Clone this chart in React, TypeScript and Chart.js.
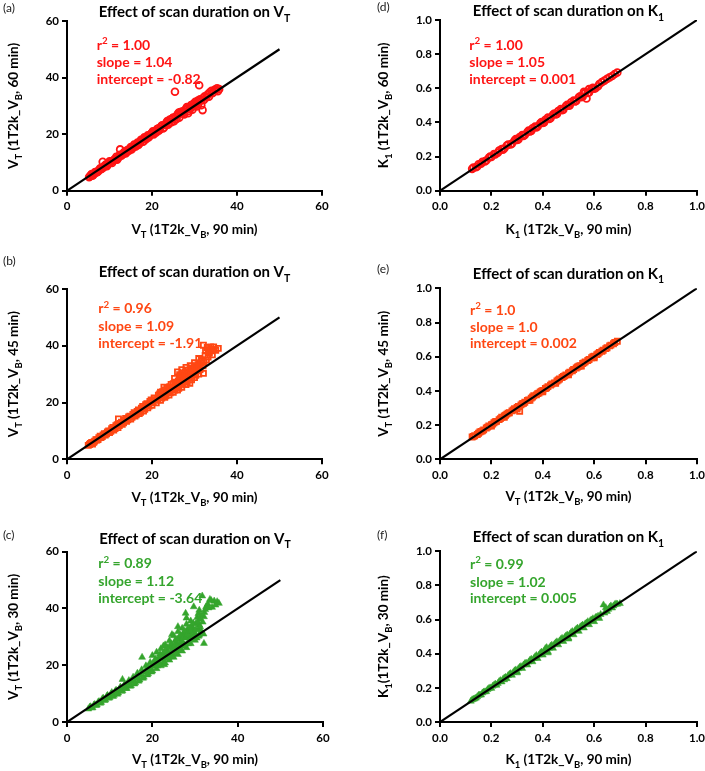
import React, { useEffect, useRef } from 'react';
import { Chart, registerables } from 'chart.js';
Chart.register(...registerables);

// ---------- data ----------
const vtTicks = [0, 20, 40, 60];
const k1Ticks = [0, 0.2, 0.4, 0.6, 0.8, 1.0];
const vtIdentity = [[0, 0], [50, 50]];
const k1Identity = [[0, 0], [1, 1]];

const vt60Points = [
  [5.2,4.8],[5.6,5.5],[6.0,5.3],[6.3,6.0],[6.8,6.4],[7.2,6.6],[7.5,7.3],[8.0,7.6],[8.4,10.2],[8.6,8.2],
  [9.0,8.9],[9.4,8.7],[9.8,9.6],[10.2,10.0],[10.6,9.8],[11.0,10.8],[11.4,11.3],[11.8,11.0],[12.2,12.0],[12.5,14.6],
  [12.8,12.4],[13.2,13.0],[13.6,13.8],[14.0,13.5],[14.4,14.3],[14.8,14.9],[15.2,14.6],[15.6,15.6],[16.0,15.8],[16.4,16.5],
  [16.8,16.2],[17.2,17.3],[17.6,17.9],[18.0,17.4],[18.4,18.6],[18.8,19.1],[19.2,18.8],[19.6,19.9],[20.0,20.5],[20.4,19.9],
  [20.8,21.0],[21.0,20.6],[21.2,21.8],[21.6,21.2],[22.0,22.4],[22.4,23.1],[22.8,22.3],[23.0,23.3],[23.2,23.6],[23.6,24.6],
  [24.0,23.8],[24.4,25.0],[24.8,25.6],[25.2,24.6],[25.4,35.0],[25.6,26.2],[26.0,26.9],[26.2,27.5],[26.4,25.8],[26.8,27.3],
  [27.0,27.6],[27.2,28.1],[27.6,27.0],[28.0,28.8],[28.2,29.6],[28.5,27.4],[28.8,29.4],[29.0,28.9],[29.2,30.3],[29.5,28.6],
  [29.8,30.8],[30.0,30.0],[30.2,31.4],[30.5,29.8],[30.8,31.9],[31.1,37.3],[31.3,32.3],[31.6,30.2],[31.9,28.5],[32.0,32.8],
  [32.4,33.4],[32.8,33.0],[33.2,34.2],[33.6,34.8],[34.0,35.3],[34.4,34.7],[34.8,35.8],[35.3,36.2],[35.8,35.9],
  [5.4,5.0],[5.8,5.9],[6.2,5.6],[6.6,6.6],[7.0,6.5],[7.4,7.0],[7.8,7.9],[8.2,7.8],[8.8,8.8],[9.2,9.3],
  [9.6,9.2],[10.0,10.4],[10.4,10.3],[10.8,10.6],[11.2,11.0],[11.6,12.0],[12.0,11.5],[12.4,12.7],[13.0,12.7],[13.4,13.6],
  [13.8,13.2],[14.2,14.4],[14.6,14.1],[15.0,15.4],[15.4,15.1],[15.8,16.3],[16.2,15.6],[16.6,17.0],[17.0,16.6],[17.4,18.0],
  [17.8,17.3],[18.2,18.9],[18.6,18.2],[19.0,19.6],[19.4,19.3],[19.8,20.0],[20.2,21.0],[20.6,20.4],[21.4,22.0],[21.8,21.6],
  [22.2,22.9],[22.6,22.0],[23.4,24.1],[23.8,23.3],[24.2,25.2],[24.6,24.2],[25.0,25.9],[25.8,25.4],[26.6,27.8],[27.4,27.5],
  [27.8,28.6],[28.4,29.3],[28.6,28.2],[29.4,29.6],[30.4,31.0],[30.8,30.5],[31.5,31.8],[32.2,32.1],[33.0,33.8],[33.4,33.2],
  [34.2,34.5],[35.0,35.5],[35.5,35.2]
];

const vt45Points = [
  [5.0,4.9],[5.5,5.6],[6.0,5.4],[6.5,6.4],[7.0,6.8],[7.5,7.6],[8.0,7.7],[8.5,8.6],[9.0,8.5],[9.5,9.6],
  [10.0,9.4],[10.5,10.8],[11.0,10.3],[11.5,11.8],[12.0,11.2],[12.1,14.2],[12.5,12.6],[13.0,12.3],[13.5,13.8],[14.0,13.4],
  [14.0,14.0],[14.5,14.9],[15.0,14.2],[15.5,15.8],[16.0,15.2],[16.0,16.1],[16.5,16.9],[17.0,16.1],[17.5,18.0],[18.0,17.0],
  [18.0,18.2],[18.5,19.2],[19.0,18.1],[19.5,20.4],[20.0,19.0],[20.0,20.4],[20.5,21.6],[21.0,19.9],[21.5,22.6],[22.0,20.8],
  [22.0,22.2],[22.5,23.8],[22.8,25.4],[23.0,21.8],[23.5,25.0],[24.0,22.6],[24.0,24.6],[24.5,26.4],[25.0,23.6],[25.3,28.5],
  [25.5,27.2],[26.0,24.4],[26.0,26.8],[26.0,30.8],[26.5,28.6],[27.0,25.4],[27.0,31.6],[27.5,29.5],[28.0,26.3],[28.0,28.6],
  [28.0,32.4],[28.5,30.6],[28.9,26.8],[29.0,33.0],[29.5,31.2],[30.0,28.8],[30.0,30.8],[30.0,34.0],[30.5,32.4],[31.0,30.0],
  [31.0,35.5],[31.5,33.8],[32.1,40.2],[32.1,30.3],[32.5,36.6],[33.0,39.4],[33.5,37.4],[34.0,38.2],[34.5,39.6],[35.0,38.4],
  [35.6,39.1],
  [5.3,5.2],[5.8,5.9],[6.3,6.0],[6.8,6.9],[7.3,7.0],[7.8,8.1],[8.3,8.0],[8.8,9.0],[9.3,9.0],[9.8,10.0],
  [10.3,9.9],[10.8,11.2],[11.3,10.8],[11.8,12.2],[12.3,11.9],[12.8,13.1],[13.3,12.9],[13.8,14.4],[14.3,13.9],[14.8,15.2],
  [15.3,14.8],[15.8,16.4],[16.3,15.7],[16.8,17.4],[17.3,16.6],[17.8,18.6],[18.3,17.6],[18.8,19.6],[19.3,18.8],[19.8,20.9],
  [20.3,20.0],[20.8,21.0],[21.3,21.0],[21.8,23.0],[22.3,21.6],[22.8,23.0],[23.3,22.4],[23.8,24.2],[24.3,23.4],[24.8,25.2],
  [25.3,24.4],[25.8,26.2],[26.3,25.0],[26.5,29.8],[26.8,27.4],[27.3,26.4],[27.3,30.4],[27.8,28.2],[28.3,27.4],[28.5,31.4],
  [28.8,29.5],[29.3,28.0],[29.5,32.2],[29.8,30.2],[30.3,29.6],[30.8,33.2],[31.3,31.6],[31.8,34.6],[32.0,33.0],[32.8,35.0],
  [33.2,36.0],[33.8,39.6],[34.2,36.8],
  [22.0,23.6],[22.6,22.4],[23.0,24.4],[23.6,23.6],[24.2,25.6],[24.6,24.8],[25.0,26.6],[25.6,25.6],[26.2,27.6],[26.6,26.6],
  [26.8,29.2],[27.2,28.6],[27.6,27.6],[27.8,30.8],[28.2,29.8],[28.6,28.6],[29.0,31.8],[29.2,29.8],[29.6,30.6],[30.2,33.0],
  [30.6,31.2],[31.0,32.4],[31.6,35.0],[32.2,34.2],[32.6,38.2],[33.2,38.6],[34.6,38.8]
];

const vt30Points = [
  [5.0,4.6],[5.5,5.4],[6.0,5.0],[6.5,6.2],[7.0,6.0],[7.5,7.2],[8.0,6.9],[8.5,8.4],[9.0,7.8],[9.5,9.4],
  [10.0,8.6],[10.5,10.4],[11.0,9.4],[11.5,11.2],[12.0,10.2],[12.5,12.3],[13.0,11.0],[13.0,15.0],[13.5,13.2],[14.0,11.8],
  [14.5,14.6],[15.0,12.8],[15.5,15.8],[16.0,13.8],[16.5,17.2],[17.0,14.8],[17.5,18.4],[17.6,22.8],[18.0,15.8],[18.5,19.8],
  [19.0,17.0],[19.0,19.4],[19.5,21.0],[20.0,18.0],[20.0,23.4],[20.5,21.5],[21.0,18.8],[21.0,21.4],[21.0,24.6],[21.5,22.6],
  [22.0,19.8],[22.0,25.8],[22.5,21.0],[22.5,23.8],[23.0,20.8],[23.0,23.6],[23.0,27.2],[23.5,25.0],[24.0,21.8],[24.0,28.6],
  [24.5,23.0],[24.5,26.4],[25.0,22.8],[25.0,25.6],[25.0,30.4],[25.5,27.8],[26.0,23.8],[26.0,31.8],[26.5,25.8],[26.5,29.0],
  [27.0,25.0],[27.0,28.4],[27.0,33.0],[27.5,30.4],[27.8,38.3],[28.0,26.2],[28.0,34.4],[28.5,28.4],[28.5,31.6],[29.0,27.6],
  [29.0,30.2],[29.0,35.6],[29.5,33.0],[29.7,40.6],[30.0,28.8],[30.0,31.4],[30.5,36.8],[31.0,30.6],[31.0,34.2],[31.7,44.4],
  [32.1,37.1],[32.1,27.7],[33.0,41.6],[33.5,43.2],[34.0,40.4],[34.5,42.6],[35.2,42.4],[35.6,41.8],
  [5.3,5.2],[5.8,5.0],[6.3,6.0],[6.8,5.8],[7.3,7.0],[7.8,6.6],[8.3,8.2],[8.8,7.6],[9.3,9.0],[9.8,8.4],
  [10.3,9.8],[10.8,9.0],[11.3,10.8],[11.8,9.8],[12.3,11.6],[12.8,10.8],[13.3,12.6],[13.8,11.8],[14.3,13.6],[14.8,12.6],
  [15.3,14.4],[15.8,13.4],[16.3,15.4],[16.8,14.4],[17.3,16.4],[17.8,15.4],[18.3,17.6],[18.8,16.6],[19.3,18.4],[19.8,17.6],
  [20.3,19.6],[20.8,20.6],[21.3,20.4],[21.8,24.0],[22.3,22.4],[22.8,20.2],[23.3,24.4],[23.8,22.6],[24.3,26.6],[24.8,24.0],
  [25.3,28.6],[25.8,25.2],[26.3,29.8],[26.8,26.8],[27.3,31.4],[27.6,27.2],[28.2,32.6],[28.6,29.6],[29.2,33.8],[29.6,31.8],
  [30.2,34.6],[30.4,29.6],[30.8,32.6],[31.2,36.2],[31.5,32.0],[32.6,40.6],[32.2,38.6],[33.8,42.8],[34.8,41.2],[30.8,38.2],
  [19.5,19.0],[20.2,20.8],[20.8,22.2],[21.2,19.8],[21.6,21.0],[22.0,23.2],[22.4,22.8],[22.8,24.8],[23.2,22.4],[23.6,26.2],
  [23.8,24.2],[24.2,23.8],[24.4,27.6],[24.8,25.8],[25.2,26.8],[25.4,24.4],[25.8,29.2],[26.0,27.2],[26.2,26.0],[26.6,30.6],
  [26.8,28.2],[27.2,29.6],[27.4,27.2],[27.6,32.0],[27.8,29.8],[28.2,30.8],[28.4,27.6],[28.8,33.2],[29.0,32.0],[29.4,29.2],
  [29.6,34.8],[29.8,30.0],[30.2,32.6],[30.6,35.2],[30.8,30.2],[31.2,33.6],[31.4,37.6],[31.8,35.2],[32.4,39.6],[33.2,40.2],
  [32.0,31.0],[28.0,36.6],[26.0,33.6],[24.6,30.8],[22.6,26.8],[31.0,39.4]
];

const k60Points = [
  [0.125,0.128],[0.14,0.137],[0.15,0.155],[0.16,0.158],[0.175,0.172],[0.19,0.193],[0.2,0.198],[0.21,0.215],[0.225,0.222],[0.24,0.244],
  [0.25,0.247],[0.26,0.265],[0.275,0.271],[0.29,0.294],[0.3,0.297],[0.31,0.315],[0.325,0.321],[0.34,0.344],[0.35,0.347],[0.36,0.366],
  [0.375,0.371],[0.39,0.395],[0.4,0.397],[0.41,0.416],[0.425,0.421],[0.44,0.446],[0.45,0.447],[0.46,0.467],[0.475,0.472],[0.49,0.496],
  [0.5,0.498],[0.51,0.518],[0.525,0.523],[0.54,0.547],[0.55,0.548],[0.56,0.568],[0.57,0.54],[0.575,0.573],[0.59,0.597],[0.6,0.598],
  [0.615,0.612],[0.63,0.636],[0.65,0.655],[0.67,0.672],[0.69,0.692],
  [0.13,0.135],[0.145,0.142],[0.165,0.17],[0.18,0.177],[0.195,0.2],[0.215,0.212],[0.23,0.235],[0.245,0.24],[0.265,0.27],[0.28,0.276],
  [0.295,0.302],[0.305,0.3],[0.32,0.326],[0.33,0.326],[0.345,0.352],[0.355,0.35],[0.37,0.376],[0.38,0.376],[0.395,0.402],[0.405,0.4],
  [0.42,0.428],[0.43,0.425],[0.445,0.452],[0.455,0.45],[0.47,0.478],[0.48,0.475],[0.495,0.503],[0.505,0.5],[0.52,0.528],[0.53,0.525],
  [0.545,0.553],[0.555,0.55],[0.565,0.575],[0.58,0.576],[0.595,0.603],[0.605,0.6],[0.62,0.625],[0.64,0.645],[0.66,0.664],[0.68,0.684],
  [0.56,0.58],[0.58,0.595]
];

const k45Points = [
  [0.125,0.13],[0.135,0.138],[0.15,0.152],[0.16,0.163],[0.17,0.172],[0.185,0.188],[0.2,0.202],[0.2,0.194],[0.21,0.214],[0.22,0.222],
  [0.235,0.238],[0.25,0.253],[0.25,0.245],[0.26,0.264],[0.27,0.272],[0.285,0.288],[0.3,0.303],[0.3,0.294],[0.31,0.28],[0.315,0.318],
  [0.33,0.334],[0.345,0.347],[0.35,0.345],[0.36,0.364],[0.375,0.377],[0.39,0.394],[0.4,0.403],[0.4,0.395],[0.415,0.418],[0.43,0.434],
  [0.445,0.447],[0.45,0.445],[0.46,0.464],[0.475,0.478],[0.49,0.494],[0.5,0.503],[0.5,0.494],[0.515,0.518],[0.53,0.534],[0.545,0.547],
  [0.55,0.545],[0.56,0.564],[0.575,0.578],[0.59,0.594],[0.6,0.603],[0.6,0.594],[0.615,0.617],[0.63,0.632],[0.645,0.647],[0.66,0.663],
  [0.675,0.676],[0.69,0.69],
  [0.13,0.134],[0.145,0.145],[0.155,0.16],[0.165,0.166],[0.18,0.183],[0.19,0.195],[0.205,0.206],[0.215,0.22],[0.23,0.232],[0.24,0.246],
  [0.255,0.258],[0.265,0.27],[0.28,0.283],[0.29,0.296],[0.305,0.309],[0.32,0.325],[0.325,0.327],[0.34,0.344],[0.355,0.358],[0.365,0.372],
  [0.38,0.384],[0.385,0.387],[0.395,0.399],[0.41,0.414],[0.42,0.425],[0.435,0.44],[0.455,0.458],[0.465,0.47],[0.48,0.484],[0.485,0.488],
  [0.505,0.51],[0.52,0.525],[0.535,0.54],[0.54,0.544],[0.555,0.56],[0.565,0.57],[0.58,0.584],[0.595,0.6],[0.61,0.612],[0.62,0.625],
  [0.635,0.638],[0.65,0.652],[0.665,0.668],[0.68,0.683]
];

const k30Points = [
  [0.12,0.122],[0.13,0.134],[0.14,0.14],[0.15,0.156],[0.16,0.158],[0.17,0.176],[0.18,0.178],[0.19,0.196],[0.2,0.197],[0.21,0.216],
  [0.22,0.215],[0.23,0.237],[0.24,0.235],[0.25,0.258],[0.25,0.247],[0.26,0.254],[0.27,0.279],[0.28,0.274],[0.29,0.3],[0.3,0.294],
  [0.3,0.288],[0.31,0.321],[0.32,0.314],[0.33,0.342],[0.34,0.334],[0.35,0.362],[0.36,0.353],[0.37,0.382],[0.38,0.372],[0.39,0.403],
  [0.4,0.392],[0.41,0.43],[0.42,0.412],[0.42,0.405],[0.43,0.444],[0.44,0.432],[0.45,0.464],[0.46,0.452],[0.47,0.484],[0.48,0.472],
  [0.49,0.504],[0.5,0.492],[0.5,0.486],[0.51,0.524],[0.52,0.511],[0.53,0.543],[0.54,0.531],[0.55,0.562],[0.56,0.551],[0.57,0.58],
  [0.58,0.57],[0.59,0.598],[0.6,0.588],[0.61,0.614],[0.62,0.607],[0.636,0.686],[0.64,0.638],[0.65,0.648],[0.66,0.672],[0.67,0.668],
  [0.68,0.688],[0.69,0.69],[0.7,0.694],
  [0.125,0.13],[0.135,0.136],[0.145,0.148],[0.155,0.158],[0.165,0.17],[0.175,0.177],[0.185,0.19],[0.195,0.2],[0.205,0.21],[0.215,0.222],
  [0.225,0.226],[0.235,0.243],[0.245,0.25],[0.255,0.262],[0.265,0.272],[0.275,0.284],[0.285,0.29],[0.295,0.305],[0.305,0.312],[0.315,0.325],
  [0.325,0.334],[0.335,0.345],[0.345,0.352],[0.355,0.368],[0.365,0.372],[0.375,0.39],[0.385,0.392],[0.395,0.41],[0.405,0.415],[0.415,0.436],
  [0.425,0.432],[0.435,0.45],[0.445,0.455],[0.455,0.47],[0.465,0.475],[0.475,0.49],[0.485,0.495],[0.495,0.51],[0.505,0.514],[0.515,0.53],
  [0.525,0.535],[0.535,0.55],[0.545,0.555],[0.555,0.568],[0.565,0.575],[0.575,0.588],[0.585,0.594],[0.595,0.605],[0.605,0.612],[0.615,0.62],
  [0.625,0.63],[0.645,0.67],[0.655,0.66],[0.665,0.68],[0.675,0.68],[0.685,0.692]
];

const statsA = ['r^{2} = 1.00', 'slope = 1.04', 'intercept = -0.82'];
const statsB = ['r^{2} = 0.96', 'slope = 1.09', 'intercept = -1.91'];
const statsC = ['r^{2} = 0.89', 'slope = 1.12', 'intercept = -3.64'];
const statsD = ['r^{2} = 1.00', 'slope = 1.05', 'intercept = 0.001'];
const statsE = ['r^{2} = 1.0', 'slope = 1.0', 'intercept = 0.002'];
const statsF = ['r^{2} = 0.99', 'slope = 1.02', 'intercept = 0.005'];

// ---------- styles ----------
const RED = '#ff1414';
const ORANGE = '#ff4713';
const GREEN = '#35a52d';
const FONT = 'Lato';

type Panel = {
  letter: string; left: number; top: number; w: number; h: number;
  area: { l: number; r: number; t: number; b: number };
  letterPos: [number, number]; titleY: number; statsX: number; statsY: number[];
  xTitleY: number; yTitleX: number;
  title: string; xTitle: string; yTitle: string; stats: string[]; color: string;
  points: number[][]; identity: number[][]; ticks: number[]; max: number; decimals: number;
  style: 'circle' | 'rect' | 'triangle';
};

const VT_TITLE = 'Effect of scan duration on V_{T}';
const K1_TITLE = 'Effect of scan duration on K_{1}';

const panels: Panel[] = [
  { letter: '(a)', left: 0, top: 0, w: 350, h: 255, area: { l: 67, r: 322, t: 21, b: 190.7 },
    letterPos: [3, 8], titleY: 12, statsX: 96.7, statsY: [45, 61.7, 79], xTitleY: 228.7, yTitleX: 13.3,
    title: VT_TITLE, xTitle: 'V_{T} (1T2k_V_{B}, 90 min)', yTitle: 'V_{T} (1T2k_V_{B}, 60 min)',
    stats: statsA, color: RED, points: vt60Points, identity: vtIdentity, ticks: vtTicks, max: 60, decimals: 0, style: 'circle' },
  { letter: '(b)', left: 0, top: 255, w: 350, h: 255, area: { l: 67, r: 322, t: 34, b: 204.3 },
    letterPos: [3, 6], titleY: 16.7, statsX: 98.3, statsY: [53.3, 70.7, 87.7], xTitleY: 241.7, yTitleX: 13.3,
    title: VT_TITLE, xTitle: 'V_{T} (1T2k_V_{B}, 90 min)', yTitle: 'V_{T} (1T2k_V_{B}, 45 min)',
    stats: statsB, color: ORANGE, points: vt45Points, identity: vtIdentity, ticks: vtTicks, max: 60, decimals: 0, style: 'rect' },
  { letter: '(c)', left: 0, top: 510, w: 350, h: 261, area: { l: 67, r: 323, t: 41.7, b: 212 },
    letterPos: [3, 25], titleY: 28.3, statsX: 98.3, statsY: [53.3, 71, 88.3], xTitleY: 249.3, yTitleX: 13.3,
    title: VT_TITLE, xTitle: 'V_{T} (1T2k_V_{B}, 90 min)', yTitle: 'V_{T} (1T2k_V_{B}, 30 min)',
    stats: statsC, color: GREEN, points: vt30Points, identity: vtIdentity, ticks: vtTicks, max: 60, decimals: 0, style: 'triangle' },
  { letter: '(d)', left: 350, top: 0, w: 355, h: 255, area: { l: 90, r: 347, t: 20, b: 190.7 },
    letterPos: [27, 7], titleY: 11, statsX: 119.3, statsY: [45, 61.7, 79], xTitleY: 228.7, yTitleX: 33.3,
    title: K1_TITLE, xTitle: 'K_{1} (1T2k_V_{B}, 90 min)', yTitle: 'K_{1} (1T2k_V_{B}, 60 min)',
    stats: statsD, color: RED, points: k60Points, identity: k1Identity, ticks: k1Ticks, max: 1, decimals: 1, style: 'circle' },
  { letter: '(e)', left: 350, top: 255, w: 355, h: 255, area: { l: 90, r: 347, t: 33.3, b: 204.3 },
    letterPos: [27, 13.3], titleY: 18.3, statsX: 120, statsY: [55, 71.7, 88.3], xTitleY: 240.7, yTitleX: 33.3,
    title: K1_TITLE, xTitle: 'V_{T} (1T2k_V_{B}, 90 min)', yTitle: 'V_{T} (1T2k_V_{B}, 45 min)',
    stats: statsE, color: ORANGE, points: k45Points, identity: k1Identity, ticks: k1Ticks, max: 1, decimals: 1, style: 'rect' },
  { letter: '(f)', left: 350, top: 510, w: 355, h: 261, area: { l: 90, r: 347, t: 41.3, b: 212 },
    letterPos: [27, 25], titleY: 26.7, statsX: 120, statsY: [54, 71.7, 88.3], xTitleY: 249.3, yTitleX: 33.3,
    title: K1_TITLE, xTitle: 'K_{1} (1T2k_V_{B}, 90 min)', yTitle: 'K_{1}(1T2k_V_{B}, 30 min)',
    stats: statsF, color: GREEN, points: k30Points, identity: k1Identity, ticks: k1Ticks, max: 1, decimals: 1, style: 'triangle' },
];

// ---------- rich text ----------
type Seg = { t: string; k: 0 | 1 | 2 };
function parseRich(s: string): Seg[] {
  const segs: Seg[] = [];
  const re = /([_^])\{([^}]*)\}/g;
  let last = 0; let m: RegExpExecArray | null;
  while ((m = re.exec(s))) {
    if (m.index > last) segs.push({ t: s.slice(last, m.index), k: 0 });
    segs.push({ t: m[2], k: m[1] === '_' ? 1 : 2 });
    last = re.lastIndex;
  }
  if (last < s.length) segs.push({ t: s.slice(last), k: 0 });
  return segs;
}
function drawRich(ctx: CanvasRenderingContext2D, s: string, x: number, y: number, size: number,
  color: string, align: 'left' | 'center', weight = 'bold') {
  const segs = parseRich(s);
  const sub = size * 0.7;
  const f = (sz: number) => `${weight} ${sz}px ${FONT}`;
  let w = 0;
  for (const g of segs) { ctx.font = f(g.k ? sub : size); w += ctx.measureText(g.t).width; }
  let cx = align === 'center' ? x - w / 2 : x;
  const base = y + size * 0.36;
  ctx.fillStyle = color;
  ctx.textBaseline = 'alphabetic';
  ctx.textAlign = 'left';
  for (const g of segs) {
    ctx.font = f(g.k ? sub : size);
    const dy = g.k === 1 ? size * 0.3 : g.k === 2 ? -size * 0.4 : 0;
    ctx.fillText(g.t, cx, base + dy);
    cx += ctx.measureText(g.t).width;
  }
}

function PanelChart({ p }: { p: Panel }) {
  const ref = useRef<HTMLCanvasElement>(null);
  useEffect(() => {
    const cv = ref.current!;
    const tickFont = { family: FONT, weight: 'bold' as const, size: 11.5 };
    const mkScale = (axis: 'x' | 'y') => ({
      type: 'linear' as const,
      min: 0, max: p.max,
      afterBuildTicks: (s: any) => { s.ticks = p.ticks.map((v) => ({ value: v })); },
      afterFit: (s: any) => {
        if (axis === 'y') { s.width = 40; s.paddingTop = 0; s.paddingBottom = 0; }
        else { s.height = 30; s.paddingLeft = 0; s.paddingRight = 0; }
      },
      ticks: {
        color: '#000', font: tickFont, padding: axis === 'x' ? 4 : 3,
        autoSkip: false, maxRotation: 0,
        callback: (v: any) => Number(v).toFixed(p.decimals),
      },
      grid: { display: true, drawOnChartArea: false, drawTicks: true, tickLength: 5, color: '#000', lineWidth: 2 },
      border: { display: true, color: '#000', width: 2 },
    });
    const textPlugin = {
      id: 'panelText',
      afterDraw(chart: any) {
        const ctx: CanvasRenderingContext2D = chart.ctx;
        const a = chart.chartArea;
        const cxp = (a.left + a.right) / 2;
        const cyp = (a.top + a.bottom) / 2;
        ctx.save();
        drawRich(ctx, p.letter, p.letterPos[0], p.letterPos[1], 12, '#222', 'left', 'normal');
        drawRich(ctx, p.title, cxp, p.titleY, 15, '#000', 'center');
        p.stats.forEach((s, i) => drawRich(ctx, s, p.statsX, p.statsY[i], 14, p.color, 'left'));
        drawRich(ctx, p.xTitle, cxp, p.xTitleY, 13.5, '#000', 'center');
        ctx.translate(p.yTitleX, cyp);
        ctx.rotate(-Math.PI / 2);
        drawRich(ctx, p.yTitle, 0, 0, 13.5, '#000', 'center');
        ctx.restore();
      },
    };
    const filled = p.style === 'triangle';
    const chart = new Chart(cv, {
      type: 'scatter',
      data: {
        datasets: [
          {
            data: p.identity.map(([x, y]) => ({ x, y })),
            showLine: true, borderColor: '#000', borderWidth: 2.2, pointRadius: 0, fill: false,
          } as any,
          {
            data: p.points.map(([x, y]) => ({ x, y })),
            pointStyle: p.style,
            pointRadius: filled ? 4 : p.style === 'rect' ? 3.6 : 3.4,
            pointBorderWidth: filled ? 0.5 : 1.8,
            pointBorderColor: p.color,
            pointBackgroundColor: filled ? p.color : 'rgba(255,255,255,0)',
          } as any,
        ],
      },
      options: {
        responsive: false,
        animation: false,
        devicePixelRatio: 1,
        layout: {
          padding: {
            left: p.area.l - 40,
            right: p.w - p.area.r,
            top: p.area.t,
            bottom: p.h - p.area.b - 30,
          },
        },
        plugins: { legend: { display: false }, tooltip: { enabled: false }, title: { display: false } },
        scales: { x: mkScale('x') as any, y: mkScale('y') as any },
      },
      plugins: [textPlugin],
    });
    return () => chart.destroy();
  }, [p]);
  return (
    <canvas ref={ref} width={p.w} height={p.h}
      style={{ position: 'absolute', left: p.left, top: p.top, width: p.w, height: p.h }} />
  );
}

export default function App() {
  return (
    <div style={{ position: 'absolute', left: 0, top: 0, width: 705, height: 771, background: '#fff', overflow: 'hidden' }}>
      {panels.map((p) => <PanelChart key={p.letter} p={p} />)}
    </div>
  );
}
